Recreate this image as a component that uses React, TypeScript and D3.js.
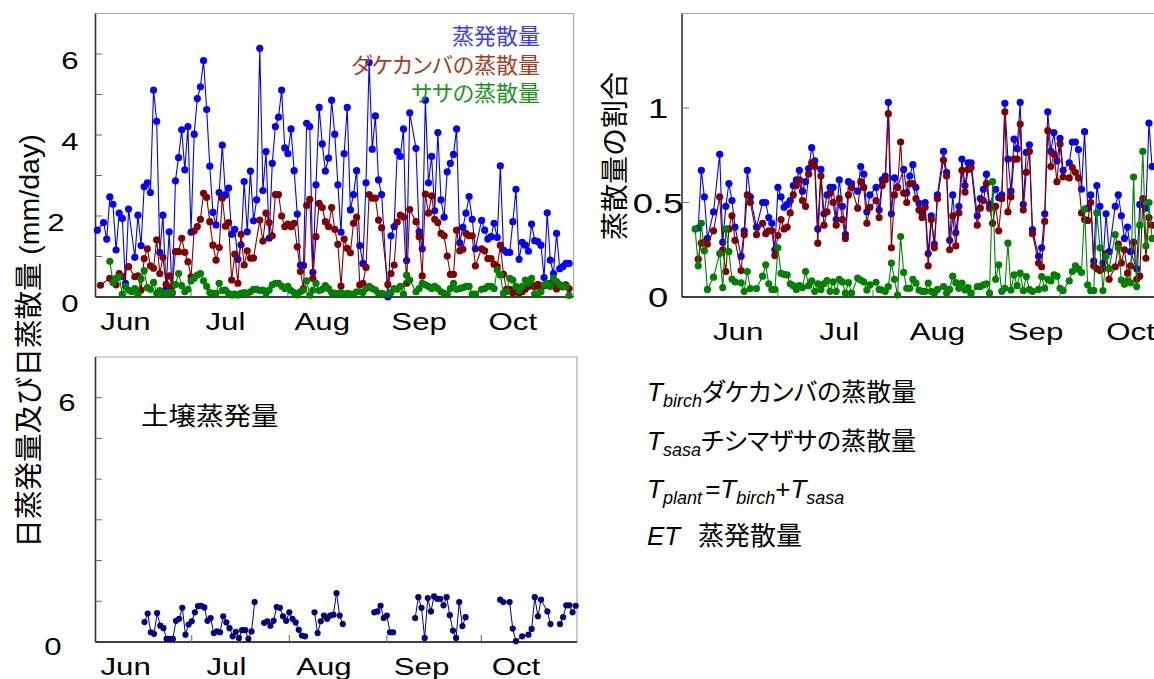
import { useEffect, useRef } from 'react'
import * as d3 from 'd3'

const W = 1154
const H = 679
const START = new Date(2006, 5, 1) // Jun 1, day index 0

// month tick labels (and the day of month each label is centred on)
const monthNames = ['Jun', 'Jul', 'Aug', 'Sep', 'Oct']
const monthIndex = [5, 6, 7, 8, 9]
const labelDayLeft = [10, 12, 12, 12, 12]
const labelDayRight = [18, 21, 22, 23, 24]

const evapTicks = [1, 2, 3, 4, 5, 6]
const evapLabels = [0, 2, 4, 6]
const soilLabels = [0, 6]
const ratioTicks = [0.5, 1]
const ratioLabels = [0, 0.5, 1]

const seriesNames = ['蒸発散量', 'ダケカンバの蒸散量', 'ササの蒸散量']

// daily values, Jun 1 .. Oct 31 (mm/day)
const etDaily = [
    1.65, null, 1.84, 1.43, 2.47, 2.29, 1.16, 2.07, 1.94, 0.34,
    2.17, null, 0.98, 2.02, 1.27, 2.72, 2.82, 2.58, 5.11, 4.34,
    1.1, 2.02, 0.19, 1.61, 0.1, 2.87, 3.44, 4.13, 3.14, 4.21,
    1.6, 4.02, 4.9, 5.19, 5.84, 4.63, 3.23, 2.09, 1.78, 2.58,
    3.75, 2.52, 2.69, 1.55, 1.67, 0.93, 1.29, 2.85, 1.61, 3.11,
    1.88, 2.4, 6.14, 2.63, 3.59, 1.45, 3.3, 4.21, 4.44, 5.11,
    3.68, 3.54, 4.15, 3.12, 2.05, 0.79, 0.78, 4.29, 4.21, 0.61,
    2.77, 4.68, 3.78, 3.11, 3.43, 4.86, 4.02, 2.77, 1.6, 3.54,
    4.68, 2.15, 2.53, 3.12, 1.27, 0.83, 2.82, 5.79, 3.65, 4.47,
    2.89, 2.53, null, 0.0, 1.51, 1.74, 3.59, 3.47, 4.15, 0.9,
    4.55, null, 3.67, 1.61, 1.19, 4.86, 2.82, 3.47, 2.13, 4.06,
    2.4, 1.97, 3.09, 3.3, 3.52, 4.15, 1.34, 1.72, 2.07, 2.48,
    1.92, 1.19, null, 1.89, 1.65, 1.43, 1.49, 1.82, 1.47, 3.24,
    1.16, 1.1, 1.1, 1.86, 2.66, 0.93, 1.35, 1.28, 1.13, 1.8,
    1.39, 1.37, 1.28, 0.48, 2.08, 0.91, 0.58, 1.57, 0.7, 0.75,
    0.83, 0.83, null,
]

const birchDaily = [
    null, 0.29, null, null, 0.46, null, 0.3, 0.58, 0.5, null,
    0.75, null, 0.5, 0.52, 0.17, 0.95, 1.19, 0.77, 0.71, 1.41,
    0.58, 0.98, 0.31, 0.52, 0.26, 1.12, 1.12, 1.45, 1.1, 0.87,
    0.5, 1.63, 1.74, 1.92, 2.56, 2.46, 1.86, 1.28, 0.91, 1.22,
    2.44, 1.75, 1.84, 0.42, 1.06, 0.34, 1.55, 0.79, 1.14, 0.96,
    0.96, null, 1.9, 1.38, 2.07, 1.84, 1.51, 2.53, 2.53, 2.0,
    1.74, 1.8, 1.74, 1.82, 1.24, 0.63, 0.21, 2.26, 2.41, 0.46,
    1.49, 2.31, 2.21, 1.86, 1.74, 2.21, 1.67, 1.3, 0.27, 1.43,
    1.2, 1.09, 1.82, 1.97, 0.3, 0.34, 0.73, 2.53, 2.44, 2.44,
    1.9, 1.71, null, 0.31, 0.58, 0.79, 1.85, 2.02, 1.97, 0.34,
    2.16, null, 1.86, 1.49, 0.52, 2.54, 2.07, 2.5, 1.92, 1.84,
    1.57, 1.51, 1.01, 0.56, 0.56, 1.65, 1.14, 1.18, 1.57, 1.51,
    1.51, 0.77, null, 1.19, 1.14, 0.95, 0.95, 0.81, 0.75, 1.28,
    0.56, 0.19, 0.19, 0.1, 0.2, 0.1, 0.13, 0.2, 0.26, 0.3,
    0.25, 0.31, 0.22, 0.28, 0.3, 0.34, 0.28, 0.2, 0.3, 0.25,
    0.3, 0.21, null,
]

const sasaDaily = [
    null, null, null, null, 0.88, 0.36, 0.46, 0.5, 0.07, 0.26,
    0.17, 0.13, 0.21, 0.07, 0.45, 0.65, 0.23, 0.19, 0.36, 0.09,
    0.16, 0.09, 0.09, 0.11, 0.11, 0.31, 0.58, 0.28, 0.13, 0.19,
    0.4, 0.46, 0.54, 0.58, 0.4, 0.26, 0.11, 0.09, 0.09, 0.34,
    0.16, 0.17, 0.09, 0.05, 0.07, 0.05, 0.09, 0.11, 0.09, 0.13,
    0.19, 0.19, 0.16, 0.17, 0.09, 0.17, 0.3, 0.34, 0.34, 0.27,
    0.21, 0.26, 0.16, 0.11, 0.05, 0.13, 0.17, 0.4, 0.05, 0.17,
    0.34, 0.16, 0.19, 0.28, 0.21, 0.11, 0.09, 0.09, 0.11, 0.07,
    0.09, 0.07, 0.07, 0.13, 0.13, 0.11, 0.21, 0.26, 0.21, 0.17,
    0.09, 0.09, null, 0.07, 0.11, 0.21, 0.19, 0.26, 0.07, 0.54,
    0.42, null, 0.13, 0.21, 0.34, 0.3, 0.26, 0.21, 0.26, 0.21,
    0.13, 0.09, 0.07, 0.21, 0.34, 0.19, 0.21, 0.23, 0.26, 0.26,
    0.07, 0.07, null, 0.19, 0.21, 0.26, 0.26, 0.21, 0.67, 0.54,
    0.09, 0.13, 0.46, 0.42, 0.26, 0.16, 0.26, 0.42, 0.34, 0.46,
    0.07, 0.07, 0.13, 0.3, 0.34, 0.26, 0.46, 0.38, 0.3, 0.26,
    0.26, 0.04, null,
]

// ratio of transpiration to ET, Jun 1 .. Oct 31
const plantRatio = [
    null, null, null, null, 0.365, 0.67, 0.53, 0.31, null, 0.45,
    null, 0.755, 0.29, 0.48, 0.6, 0.51, 0.37, null, 0.215, 0.35,
    0.67, 0.53, null, 0.37, null, 0.5, 0.5, 0.42, 0.39, 0.25,
    0.58, 0.53, 0.475, 0.49, 0.51, 0.59, 0.62, 0.67, 0.56, 0.61,
    0.68, 0.79, 0.72, 0.36, 0.675, 0.44, 0.54, 0.58, 0.58, 0.41,
    0.62, 0.48, 0.33, 0.61, 0.6, null, 0.56, 0.69, 0.65, 0.45,
    0.54, null, 0.58, 0.46, 0.62, 0.64, 1.03, 0.44, 0.63, 0.58,
    null, 0.675, 0.55, 0.64, 0.7, 0.58, 0.495, 0.445, 0.5, 0.23,
    0.43, 0.28, 0.54, null, 0.77, 0.66, 0.3, 0.54, 0.34, 0.48,
    0.73, 0.59, 0.71, 0.71, null, 0.43, 0.52, 0.57, 0.65, 0.49,
    null, 0.57, 0.525, 0.54, 1.025, 0.73, 0.56, 0.835, 0.785, 1.03,
    0.49, 0.765, 0.805, 0.356, null, 0.215, 0.26, 0.44, 0.98, 0.77,
    0.87, 0.72, 0.84, 0.67, null, 0.71, 0.82, 0.82, 0.78, 0.57,
    0.875, 0.47, 0.54, 0.19, 0.59, 0.48, 0.18, 0.44, 0.24, null,
    0.48, 0.54, 0.43, 0.31, 0.37, 0.24, null, 0.15, 0.49, null,
    0.47, 0.92, 0.69,
]

const birchRatio = [
    null, null, null, null, 0.2, 0.285, 0.29, 0.28, null, 0.35,
    null, 0.53, 0.25, 0.135, 0.36, 0.43, 0.3, null, 0.14, 0.33,
    0.54, 0.5, null, 0.33, null, 0.39, 0.335, 0.35, 0.35, 0.22,
    0.325, 0.41, 0.36, 0.37, 0.445, 0.54, 0.59, 0.62, 0.51, 0.48,
    0.65, 0.71, 0.69, 0.285, 0.64, 0.38, 0.45, 0.55, 0.5, 0.38,
    0.52, 0.41, 0.31, 0.54, 0.58, null, 0.47, 0.61, 0.58, 0.39,
    0.475, null, 0.51, 0.42, 0.59, 0.62, 0.97, 0.26, 0.54, 0.58,
    0.82, 0.55, 0.5, 0.6, 0.6, 0.52, 0.46, 0.42, 0.475, 0.165,
    0.41, 0.26, 0.52, null, 0.725, 0.64, 0.25, 0.43, 0.27, 0.445,
    0.67, 0.555, 0.675, 0.685, null, 0.38, 0.47, 0.51, 0.6, 0.47,
    0.39, 0.48, 0.35, 0.52, 0.98, 0.45, 0.53, 0.73, 0.73, 0.915,
    0.46, 0.66, 0.77, 0.335, null, 0.18, 0.16, 0.4, 0.88, 0.69,
    0.755, 0.61, 0.81, 0.635, null, 0.63, 0.685, 0.66, 0.63, 0.445,
    0.41, 0.405, 0.5, 0.165, 0.15, 0.14, 0.15, 0.23, 0.094, null,
    0.16, 0.28, 0.18, 0.25, 0.126, 0.165, 0.29, 0.094, 0.11, 0.52,
    0.205, 0.42, 0.38,
]

const sasaRatio = [
    null, null, null, 0.36, 0.165, 0.39, 0.245, 0.04, null, 0.105,
    null, 0.23, 0.05, 0.36, 0.24, 0.095, 0.08, null, 0.075, 0.03,
    0.135, 0.045, null, 0.045, null, 0.11, 0.17, 0.07, 0.04, 0.04,
    0.26, 0.125, 0.12, 0.117, 0.07, 0.06, 0.04, 0.06, 0.05, 0.135,
    0.06, 0.085, 0.03, 0.07, 0.04, 0.07, 0.087, 0.03, 0.08, 0.03,
    0.094, 0.08, 0.02, 0.076, 0.02, null, 0.1, 0.09, 0.08, 0.037,
    0.064, null, 0.078, 0.04, 0.037, 0.03, 0.055, 0.18, 0.094, 0.01,
    0.32, 0.13, 0.046, 0.046, 0.094, 0.073, 0.037, 0.03, 0.03, 0.073,
    0.03, 0.02, 0.04, null, 0.055, 0.02, 0.04, 0.11, 0.076, 0.046,
    0.073, 0.037, 0.05, 0.02, null, 0.055, 0.055, 0.064, 0.07, 0.02,
    0.61, 0.094, 0.17, 0.03, 0.046, 0.285, 0.037, 0.117, 0.06, 0.126,
    0.034, 0.108, 0.04, 0.03, null, 0.04, 0.108, 0.046, 0.094, 0.085,
    0.117, 0.11, 0.046, 0.034, null, 0.085, 0.135, 0.165, 0.147, 0.13,
    0.465, 0.064, 0.034, 0.034, 0.445, 0.26, 0.034, 0.215, 0.15, null,
    0.33, 0.26, 0.09, 0.067, 0.087, 0.075, 0.635, 0.055, 0.38, 0.77,
    0.27, 0.5, 0.31,
]

// soil evaporation: day index (from Jun 1) and value (mm/day)
const soilDays = [
    15, 16, 17, 18, 19, 20, 21, 22, 23, 24, 25, 26, 27, 28, 29, 30, 31, 32,
    33, 34, 35, 36, 37, 38, 39, 40, 41, 42, 43, 44, 45, 46, 47, 48, 49, 50,
    53, 54, 55, 56, 57, 58, 59, 60, 61, 62, 63, 64, 65, 66,
    69, 70, 71, 72, 73, 74, 75, 76, 77, 78,
    88, 89, 90, 91, 92, 93, 94,
    101, 102, 103, 104, 105, 106, 107, 108, 109, 110, 111, 112, 113, 114, 115, 116, 117,
    128, 129, 131, 132, 133, 135, 137, 138, 139, 140, 141, 143, 144,
    147, 148, 149, 150, 151, 152,
]
const soilValues = [
    0.49, 0.7, 0.24, 0.2, 0.71, 0.4, 0.34, 0.08, 0.08, 0.08, 0.52, 0.57, 0.84, 0.18, 0.43, 0.51, 0.73, 0.88,
    0.89, 0.85, 0.52, 0.59, 0.22, 0.26, 0.24, 0.63, 0.48, 0.34, 0.14, 0.25, 0.1, 0.29, 0.29, 0.08, 0.26, 0.98,
    0.47, 0.51, 0.4, 0.52, 0.86, 0.84, 0.63, 0.52, 0.73, 0.57, 0.48, 0.3, 0.16, 0.14,
    0.73, 0.22, 0.51, 0.65, 0.57, 0.65, 0.67, 1.2, 0.65, 0.44,
    0.73, 0.75, 0.89, 0.59, 0.65, 0.24, 0.24,
    0.59, 1.1, 0.84, 0.1, 1.08, 0.75, 1.12, 1.06, 1.06, 0.9, 1.1, 0.66, 0.28, 0.1, 0.98, 0.39, 0.61,
    1.04, 0.98, 0.98, 0.33, 0.02, 0.14, 0.18, 0.32, 1.1, 0.63, 1.04, 0.75, 0.44,
    0.44, 0.61, 0.9, 0.9, 0.73, 0.89,
]

const FONT = "'Liberation Sans', Arial, 'Noto Sans CJK JP', sans-serif"
const BLUE = '#0000ff'
const RED = '#800000'
const GREEN = '#008000'
const NAVY = '#000080'

type G = d3.Selection<SVGGElement, unknown, null, undefined>

const dayDate = (i: number) => d3.timeDay.offset(START, i)

function putText(g: G, x: number, y: number, str: string, size: number, anchor = 'middle', sx = 1.3, fill = '#000') {
    return g
        .append('text')
        .attr('transform', `translate(${x},${y}) scale(${sx},1)`)
        .attr('text-anchor', anchor)
        .attr('font-size', size)
        .attr('fill', fill)
        .text(str)
}

function frame(g: G, x0: number, x1: number, y0: number, y1: number) {
    g.append('path')
        .attr('d', `M${x0},${y0}H${x1}V${y1}`)
        .attr('fill', 'none')
        .attr('stroke', '#a8a8a8')
        .attr('stroke-width', 1.2)
    g.append('line')
        .attr('x1', x0).attr('x2', x0).attr('y1', y0).attr('y2', y1)
        .attr('stroke', '#333').attr('stroke-width', 1.6)
    g.append('line')
        .attr('x1', x0).attr('x2', x1).attr('y1', y1).attr('y2', y1)
        .attr('stroke', '#000').attr('stroke-width', 1.6)
}

function series(g: G, x: d3.ScaleTime<number, number>, y: d3.ScaleLinear<number, number>,
    values: (number | null)[], color: string, r: number) {
    const pts = values
        .map((v, i) => ({ date: dayDate(i), v }))
        .filter((p) => p.v !== null) as { date: Date; v: number }[]
    const line = d3.line<{ date: Date; v: number }>()
        .x((p) => x(p.date))
        .y((p) => y(p.v))
    g.append('path')
        .attr('d', line(pts) || '')
        .attr('fill', 'none')
        .attr('stroke', color)
        .attr('stroke-width', 1.1)
    g.selectAll(null)
        .data(pts)
        .enter()
        .append('circle')
        .attr('cx', (p) => x(p.date))
        .attr('cy', (p) => y(p.v))
        .attr('r', r)
        .attr('fill', color)
}

function monthAxis(g: G, x: d3.ScaleTime<number, number>, yAxis: number, labelDays: number[], labelY: number) {
    const starts = d3.timeMonth.range(new Date(2006, 6, 1), new Date(2006, 10, 1))
    g.selectAll(null)
        .data(starts)
        .enter()
        .append('line')
        .attr('x1', (d) => x(d)).attr('x2', (d) => x(d))
        .attr('y1', yAxis).attr('y2', yAxis - 7)
        .attr('stroke', '#666').attr('stroke-width', 1)
    monthNames.forEach((m, i) => {
        putText(g, x(new Date(2006, monthIndex[i], labelDays[i])), labelY, m, 24)
    })
}

export default function App() {
    const svgRef = useRef<SVGSVGElement>(null)

    useEffect(() => {
        if (!svgRef.current) return
        const svg = d3.select(svgRef.current)
        svg.selectAll('*').remove()
        svg.append('rect').attr('width', W).attr('height', H).attr('fill', '#fff')

        const root = svg.append('g').attr('font-family', FONT) as unknown as G
        const xStart = (h: number) => d3.timeHour.offset(START, h)
        const xEnd = (h: number) => d3.timeHour.offset(dayDate(152), h)

        // ---------- top-left: daily ET and transpiration ----------
        const xL = d3.scaleTime().domain([xStart(-14), xEnd(10)]).range([95.5, 573.5])
        const yL = d3.scaleLinear().domain([0, 7]).range([297, 13.5])
        const gL = root.append('g') as G
        frame(gL, 95.5, 573.5, 13.5, 297)
        evapTicks.forEach((v) => {
            gL.append('line')
                .attr('x1', 95.5).attr('x2', 102)
                .attr('y1', yL(v)).attr('y2', yL(v))
                .attr('stroke', '#666')
        })
        evapLabels.forEach((v) => putText(gL, v === 2 ? 56 : 70, yL(v) + 15, String(v), 24))
        monthAxis(gL, xL, 297, labelDayLeft, 330)
        series(gL, xL, yL, etDaily, BLUE, 3.6)
        series(gL, xL, yL, birchDaily, RED, 3.6)
        series(gL, xL, yL, sasaDaily, GREEN, 3.6)

        const legendColors = ['#3a3aff', '#a0401c', '#1a961a']
        seriesNames.forEach((name, i) => {
            putText(gL, 540, 44 + i * 28.5, name, 22, 'end', 1)
                .attr('fill', legendColors[i])
                .style('font-feature-settings', '"palt"')
        })

        // ---------- bottom-left: soil evaporation ----------
        const xB = d3.scaleTime().domain([xStart(-14), xEnd(10)]).range([95.5, 577])
        const yB = d3.scaleLinear().domain([0, 7]).range([642, 357])
        const gB = root.append('g') as G
        frame(gB, 95.5, 577, 357, 642)
        evapTicks.forEach((v) => {
            gB.append('line')
                .attr('x1', 95.5).attr('x2', 102)
                .attr('y1', yB(v)).attr('y2', yB(v))
                .attr('stroke', '#666')
        })
        soilLabels.forEach((v) => putText(gB, v === 0 ? 53 : 67, yB(v) + 13, String(v), 24))
        monthAxis(gB, xB, 642, labelDayLeft, 675)

        const soilPts = soilDays.map((d, i) => ({ day: d, v: soilValues[i] }))
        const runs: { day: number; v: number }[][] = []
        soilPts.forEach((p, i) => {
            if (i === 0 || p.day - soilPts[i - 1].day > 2) runs.push([])
            runs[runs.length - 1].push(p)
        })
        const soilLine = d3.line<{ day: number; v: number }>()
            .x((p) => xB(dayDate(p.day)))
            .y((p) => yB(p.v))
        runs.forEach((run) => {
            gB.append('path')
                .attr('d', soilLine(run) || '')
                .attr('fill', 'none')
                .attr('stroke', NAVY)
                .attr('stroke-width', 1)
        })
        gB.selectAll(null)
            .data(soilPts)
            .enter()
            .append('circle')
            .attr('cx', (p) => xB(dayDate(p.day)))
            .attr('cy', (p) => yB(p.v))
            .attr('r', 3.1)
            .attr('fill', NAVY)
        putText(gB, 141, 425, '土壌蒸発量', 25, 'start', 1.1)

        // shared y-axis title
        root.append('text')
            .attr('transform', 'translate(39,341) rotate(-90)')
            .attr('text-anchor', 'middle')
            .attr('font-size', 28.5)
            .text('日蒸発量及び日蒸散量 (mm/day)')

        // ---------- top-right: ratios ----------
        const xR = d3.scaleTime().domain([xStart(-31), xEnd(31)]).range([682, 1156])
        const yR = d3.scaleLinear().domain([0, 1.5]).range([297, 13.5])
        const gR = root.append('g') as G
        frame(gR, 682, 1156, 13.5, 297)
        ratioTicks.forEach((v) => {
            gR.append('line')
                .attr('x1', 682).attr('x2', 689)
                .attr('y1', yR(v)).attr('y2', yR(v))
                .attr('stroke', '#777')
        })
        ratioLabels.forEach((v) => putText(gR, 658, yR(v) + 10, String(v), 28, 'middle', 1.3))
        monthAxis(gR, xR, 297, labelDayRight, 340)
        series(gR, xR, yR, plantRatio, BLUE, 3.6)
        series(gR, xR, yR, birchRatio, RED, 3.6)
        series(gR, xR, yR, sasaRatio, GREEN, 3.6)
        root.append('text')
            .attr('transform', 'translate(625,156) rotate(-90)')
            .attr('text-anchor', 'middle')
            .attr('font-size', 28)
            .text('蒸散量の割合')

        // ---------- notation key ----------
        const key = root.append('g').attr('fill', '#000') as G
        const row = (y: number) =>
            key.append('text').attr('x', 647).attr('y', y).attr('font-size', 26)
                .style('font-feature-settings', '"palt"')
        const sub = (t: d3.Selection<SVGTextElement, unknown, null, undefined>, s: string) =>
            t.append('tspan').attr('font-style', 'italic').attr('font-size', 18).attr('dy', 6).text(s)
        const big = (t: d3.Selection<SVGTextElement, unknown, null, undefined>, s: string, size = 26) =>
            t.append('tspan').attr('font-style', 'normal').attr('font-size', size).attr('dy', -6).text(s)

        const r1 = row(401)
        r1.append('tspan').attr('font-style', 'italic').text('T')
        sub(r1, 'birch')
        big(r1, 'ダケカンバの蒸散量', 25)

        const r2 = row(450)
        r2.append('tspan').attr('font-style', 'italic').text('T')
        sub(r2, 'sasa')
        big(r2, 'チシマザサの蒸散量', 25)

        const r3 = row(498)
        r3.append('tspan').attr('font-style', 'italic').text('T')
        sub(r3, 'plant')
        big(r3, ' =').attr('dx', -4)
        r3.append('tspan').attr('font-style', 'italic').text('T')
        sub(r3, 'birch')
        big(r3, '+')
        r3.append('tspan').attr('font-style', 'italic').text('T')
        sub(r3, 'sasa')

        const r4 = row(545)
        r4.append('tspan').attr('font-style', 'italic').text('ET')
        r4.append('tspan').attr('x', 698).text('蒸発散量')
    }, [])

    return (
        <svg
            ref={svgRef}
            width={W}
            height={H}
            style={{ position: 'absolute', left: 0, top: 0, display: 'block' }}
        />
    )
}
